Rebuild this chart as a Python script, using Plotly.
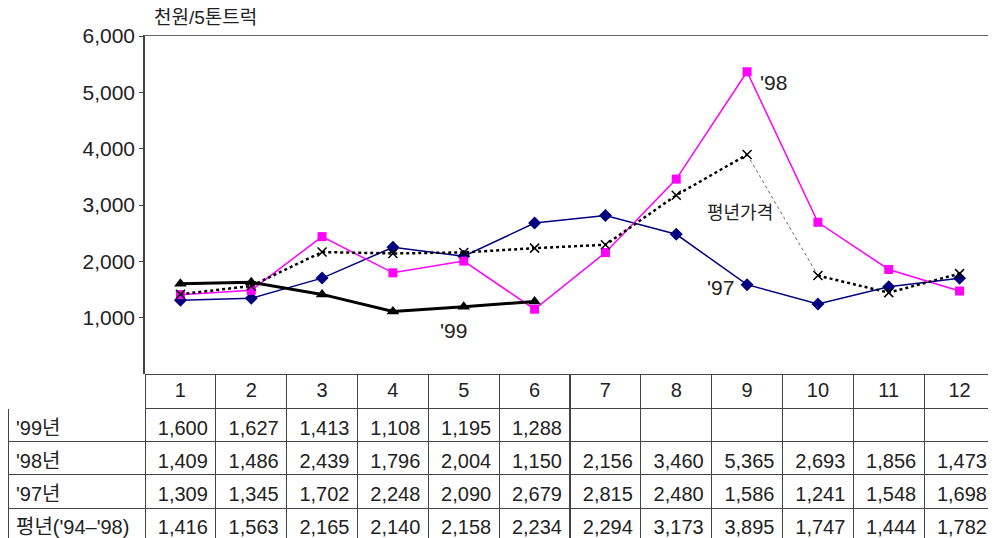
import plotly.graph_objects as go

months = list(range(1, 13))
month_labels = [str(m) for m in months]
y99 = [1600, 1627, 1413, 1108, 1195, 1288, None, None, None, None, None, None]
y98 = [1409, 1486, 2439, 1796, 2004, 1150, 2156, 3460, 5365, 2693, 1856, 1473]
y97 = [1309, 1345, 1702, 2248, 2090, 2679, 2815, 2480, 1586, 1241, 1548, 1698]
yavg = [1416, 1563, 2165, 2140, 2158, 2234, 2294, 3173, 3895, 1747, 1444, 1782]
row_labels = ["'99년", "'98년", "'97년", "평년('94–'98)"]
y_ticks = [1000, 2000, 3000, 4000, 5000, 6000]
unit_label = "천원/5톤트럭"

# page body has an 8px margin; the figure is sized so the visible window
# (996x538) matches the reference, letting the table run past the bottom edge
OFF = 8
W, H = 996, 538
WF = W - OFF
HF = H  # extends 8px below the window
BOT = OFF + HF


def xp(p):
    return max(0.0, (p - OFF) / WF)


def yp(p):
    return (BOT - p) / HF


FONT = "Liberation Sans, Arial, Noto Sans CJK KR, sans-serif"
KFONT = "Liberation Sans, Noto Sans CJK KR, sans-serif"
TXT = "#222222"
GRID = "#444444"
CLEAR = "rgba(0,0,0,0)"

px_l, px_r, px_t, px_b = 145, 995, 36, 374
HEAD_H, ROW_H, TXT_ROW_H = 34, 33.4, 33.1

fig = go.Figure()

# '97
fig.add_trace(go.Scatter(x=months, y=y97, mode="lines+markers",
                         line=dict(color="#000080", width=1.5),
                         marker=dict(symbol="diamond", size=10, color="#000080"),
                         showlegend=False))
# '98
fig.add_trace(go.Scatter(x=months, y=y98, mode="lines+markers",
                         line=dict(color="#FF00FF", width=1.5),
                         marker=dict(symbol="square", size=9, color="#FF00FF"),
                         showlegend=False))
# average: dotted, segment 9->10 drawn thin
avg_x = months[:9] + [None] + months[9:]
avg_y = yavg[:9] + [None] + yavg[9:]
fig.add_trace(go.Scatter(x=months[8:10], y=yavg[8:10], mode="lines",
                         line=dict(color="#666666", width=1, dash="dot"),
                         showlegend=False))
fig.add_trace(go.Scatter(x=avg_x, y=avg_y, mode="lines+markers",
                         line=dict(color="black", width=2.5, dash="dot"),
                         marker=dict(symbol="x-thin", size=9,
                                     line=dict(color="black", width=1.5)),
                         connectgaps=False, showlegend=False))
# '99
fig.add_trace(go.Scatter(x=months, y=y99, mode="lines+markers",
                         line=dict(color="black", width=3),
                         marker=dict(symbol="triangle-up", size=11, color="black"),
                         showlegend=False))

# data table
def fmt(v):
    return "" if v is None else f"{v:,}"

cols = [row_labels] + [[fmt(y99[i]), fmt(y98[i]), fmt(y97[i]), fmt(yavg[i])]
                       for i in range(12)]
blank_cols = [["", "", "", ""] for _ in cols]
first_w = px_l - max(5, OFF)
colw = [first_w] + [(px_r - px_l) / 12] * 12
tx = [xp(5), xp(px_r)]

# grid + header row
fig.add_trace(go.Table(
    domain=dict(x=tx, y=[0, yp(px_b)]),
    columnwidth=colw,
    header=dict(values=[""] + month_labels, height=HEAD_H,
                align="center",
                fill=dict(color="white"),
                line=dict(color=["white"] + [GRID] * 12, width=1),
                font=dict(family=FONT, size=20, color=TXT)),
    cells=dict(values=blank_cols, height=ROW_H,
               fill=dict(color="white"),
               line=dict(color=GRID, width=1),
               font=dict(family=KFONT, size=20, color=TXT)),
))
# cell texts, placed low in their rows as in the reference
fig.add_trace(go.Table(
    domain=dict(x=tx, y=[0, yp(px_b + 4)]),
    columnwidth=colw,
    header=dict(values=[""] * 13, height=HEAD_H,
                fill=dict(color=CLEAR), line=dict(color=CLEAR, width=0),
                font=dict(family=FONT, size=20, color=TXT)),
    cells=dict(values=cols, height=TXT_ROW_H,
               align=["left"] + ["right"] * 12,
               fill=dict(color=CLEAR),
               line=dict(color=CLEAR, width=0),
               font=dict(family=KFONT, size=20, color=TXT)),
))

fig.update_layout(
    width=WF, height=HF,
    autosize=False,
    margin=dict(l=0, r=0, t=0, b=0, pad=0, autoexpand=False),
    paper_bgcolor="white", plot_bgcolor="white",
    xaxis=dict(domain=[xp(px_l), xp(px_r)], range=[0.5, 12.5],
               showticklabels=False, showgrid=False, zeroline=False,
               showline=True, linecolor="#666666", linewidth=1, mirror=True,
               ticks="", automargin=False),
    yaxis=dict(domain=[yp(px_b), yp(px_t)], range=[0, 6000],
               tickvals=y_ticks, ticktext=[f"{v:,}" for v in y_ticks],
               ticks="outside", ticklen=4, tickcolor=GRID,
               showgrid=False, zeroline=False, automargin=False,
               showline=True, linecolor=GRID, linewidth=1.5,
               tickfont=dict(family=FONT, size=21, color=TXT)),
    annotations=[
        dict(text=unit_label, xref="paper", yref="paper",
             x=xp(152), y=yp(18), xanchor="left", yanchor="middle",
             showarrow=False, font=dict(family=KFONT, size=19, color=TXT)),
        dict(text="'98", x=9.37, y=5180, showarrow=False,
             font=dict(family=FONT, size=21, color=TXT)),
        dict(text="평년가격", x=8.9, y=2850, showarrow=False,
             font=dict(family=KFONT, size=18, color=TXT)),
        dict(text="'97", x=8.62, y=1530, showarrow=False,
             font=dict(family=FONT, size=21, color=TXT)),
        dict(text="'99", x=4.85, y=770, showarrow=False,
             font=dict(family=FONT, size=21, color=TXT)),
    ],
)

fig.write_html("out.html")
